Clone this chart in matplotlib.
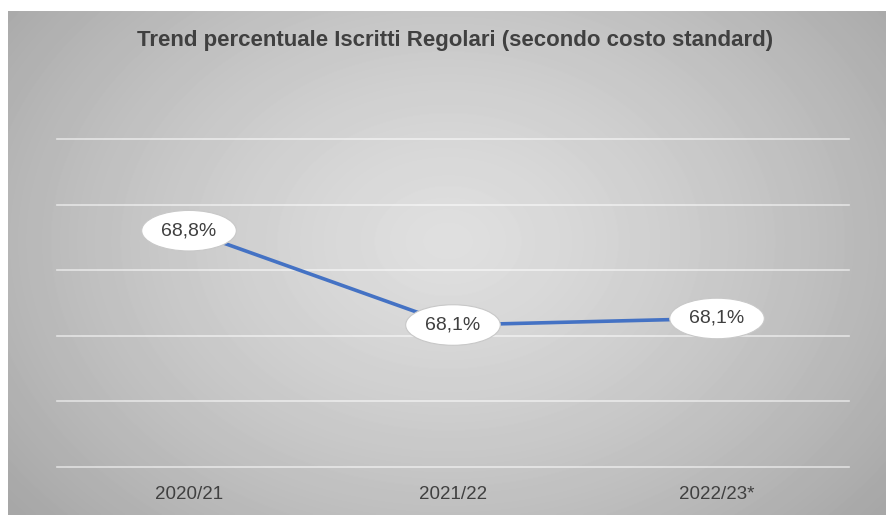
import numpy as np
import matplotlib.pyplot as plt

# data
anni = ['2020/21', '2021/22', '2022/23*']
perc = [68.8, 68.08, 68.13]
etichette = ['68,8%', '68,1%', '68,1%']

W, H = 887, 515
fig = plt.figure(figsize=(W / 100, H / 100), dpi=100)
fig.patch.set_facecolor('white')

# radial grey background
bg = fig.add_axes([8 / W, 0, (W - 8) / W, (H - 11) / H])
yy, xx = np.mgrid[0:504, 0:879]
cx, cy = 440, 230
r = np.sqrt(((xx - cx) / 560.0) ** 2 + ((yy - cy) / 420.0) ** 2)
r = np.clip(r, 0, 1)
grey = 0.875 - 0.22 * r ** 1.3
bg.imshow(grey, cmap='gray', vmin=0, vmax=1, aspect='auto', interpolation='bilinear')
bg.axis('off')

fam = ['Liberation Sans', 'DejaVu Sans']

# main axes
ax = fig.add_axes([57 / W, (H - 466.5) / H, (849 - 57) / W, (466.5 - 139) / H])
ax.patch.set_alpha(0)
x = np.arange(len(anni))
ax.plot(x, perc, color='#4472C4', lw=2.6, solid_capstyle='round', zorder=3)

for xi, yi, lab in zip(x, perc, etichette):
    ax.annotate(lab, (xi, yi), ha='center', va='center', fontsize=14,
                family=fam, color='#404040', zorder=5,
                bbox=dict(boxstyle='ellipse,pad=0.3', fc='white', ec='#c8c8c8', lw=0.8))

ax.set_xlim(-0.5, 2.5)
ax.set_ylim(67.0, 69.5)
ax.set_yticks(np.arange(67.0, 69.51, 0.5))
ax.yaxis.grid(True, color='white', lw=1.2, alpha=0.6)
for gl in ax.get_ygridlines():
    gl.set_clip_on(False)
ax.set_axisbelow(True)
ax.set_yticklabels([])
ax.tick_params(axis='y', length=0)
ax.set_xticks(x)
ax.set_xticklabels(anni, fontsize=13.5, family=fam, color='#404040')
ax.tick_params(axis='x', length=0, pad=14)
for s in ax.spines.values():
    s.set_visible(False)

fig.text(455 / W, 1 - 46 / H, 'Trend percentuale Iscritti Regolari (secondo costo standard)',
         ha='center', va='baseline', fontsize=16, fontweight='bold',
         family=fam, color='#404040')

fig.savefig('out.png', dpi=100)
